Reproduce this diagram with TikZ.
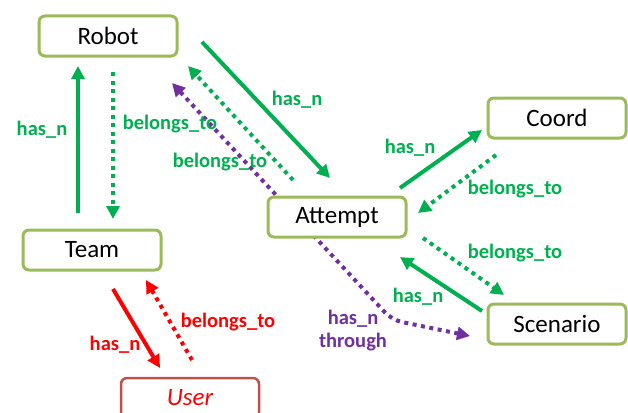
\documentclass[tikz,border=0pt]{standalone}
\usepackage{fontspec}
\setmainfont{Carlito}
\usetikzlibrary{arrows.meta}
\pgfdeclarelayer{background}
\pgfsetlayers{background,main}
\definecolor{boxline}{HTML}{9BBB59}
\definecolor{relgreen}{HTML}{00B050}
\definecolor{relred}{HTML}{FF0000}
\definecolor{relpurple}{HTML}{7030A0}
\definecolor{userline}{HTML}{C0504D}
\tikzset{
  entity/.style={draw=boxline, line width=3pt, rounded corners=6pt, fill=white,
    minimum width=138pt, minimum height=40pt, inner sep=0pt, font=\fontsize{25}{28}\selectfont},
  userbox/.style={entity, draw=userline, line width=2.5pt, text=relred, font=\fontsize{25}{28}\selectfont\itshape},
  hasrel/.style={line width=4pt, -{Triangle[length=13pt,width=13pt]}},
  belongsrel/.style={line width=4pt, dash pattern=on 4pt off 4.5pt, -{Triangle[length=13pt,width=13pt]}},
  lbl/.style={font=\fontsize{20.5}{22}\selectfont\bfseries, inner sep=0pt}
}
\begin{document}
\begin{tikzpicture}[x=1pt,y=-1pt]
\useasboundingbox (0,0) rectangle (628,412);

% entities
\node[entity] (Robot)    at (108,36)  {Robot};
\node[entity] (Team)     at (92,250)  {Team};
\node[entity] (Attempt)  at (337,217) {Attempt};
\node[entity] (Coord)    at (557,118) {Coord};
\node[entity] (Scenario) at (557,324) {Scenario};
\node[userbox] (User)    at (190,398) {User};

% Robot -- Team
\draw[hasrel, relgreen] ([shift={(-14,-37)}]Team.center) -- ([shift={(-30,30)}]Robot.center);
\draw[belongsrel, relgreen] ([shift={(5,36)}]Robot.center) -- ([shift={(21,-31)}]Team.center);
\node[lbl, relgreen] (l1) at (42,130) {has\_n};
\node[lbl, relgreen] (l2) at (170,124) {belongs\_to};

% Robot -- Attempt
\draw[hasrel, relgreen] ([shift={(94,6)}]Robot.center) -- ([shift={(-7,-39)}]Attempt.center);
\draw[belongsrel, relgreen] ([shift={(-44,-37)}]Attempt.center) -- ([shift={(80,30)}]Robot.center);
\node[lbl, relgreen] (l3) at (297,100) {has\_n};
\node[lbl, relgreen] (l4) at (220,162) {belongs\_to};

% Robot -- Scenario, passing behind Attempt
\begin{pgfonlayer}{background}
\draw[line width=4pt, relpurple, dash pattern=on 4pt off 4.5pt, rounded corners=10pt,
      {Triangle[length=13pt,width=13pt]}-{Triangle[length=13pt,width=13pt]}]
  ([shift={(64,47)}]Robot.center) -- ([shift={(55,103)}]Attempt.center)
  -- ([shift={(-87,12)}]Scenario.center);
\end{pgfonlayer}
\node[lbl, relpurple, align=center] (l5) at (353,331) {has\_n\\[1pt]through};

% Attempt -- Coord
\draw[hasrel, relgreen] ([shift={(63,-29)}]Attempt.center) -- ([shift={(-75,12)}]Coord.center);
\draw[belongsrel, relgreen] ([shift={(-61,37)}]Coord.center) -- ([shift={(81,-4)}]Attempt.center);
\node[lbl, relgreen] (l6) at (410,148) {has\_n};
\node[lbl, relgreen] (l7) at (515,189) {belongs\_to};

% Attempt -- Scenario
\draw[belongsrel, relgreen] ([shift={(86,21)}]Attempt.center) -- ([shift={(-53,-29)}]Scenario.center);
\draw[hasrel, relgreen] ([shift={(-75,-13)}]Scenario.center) -- ([shift={(63,40)}]Attempt.center);
\node[lbl, relgreen] (l8) at (515,253) {belongs\_to};
\node[lbl, relgreen] (l9) at (418,297) {has\_n};

% Team -- User
\draw[hasrel, relred] ([shift={(21,39)}]Team.center) -- ([shift={(-30,-30)}]User.center);
\draw[belongsrel, relred] ([shift={(2,-38)}]User.center) -- ([shift={(54,30)}]Team.center);
\node[lbl, relred] (l10) at (115,345) {has\_n};
\node[lbl, relred] (l11) at (228,322) {belongs\_to};
\end{tikzpicture}
\end{document}
